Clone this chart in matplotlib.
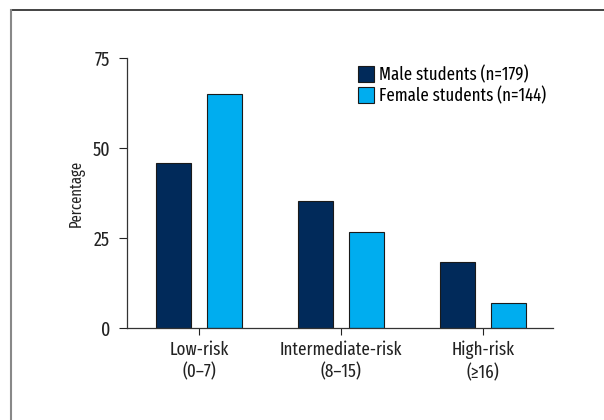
import matplotlib
matplotlib.use("Agg")
import matplotlib.pyplot as plt
import numpy as np

categories = ["Low-risk\n(0\u20137)", "Intermediate-risk\n(8\u201315)", "High-risk\n(\u226516)"]
male = [45.7, 35.3, 18.3]
female = [65.1, 26.8, 6.9]
series_labels = ["Male students (n=179)", "Female students (n=144)"]
yticks = [0, 25, 50, 75]

plt.rcParams["font.family"] = ["Fira Sans Extra Condensed", "DejaVu Sans"]

fig = plt.figure(figsize=(6.04, 4.2), dpi=100)
ax = fig.add_axes([127/604, 1 - 328/420, (553-127)/604, (328-58)/420])

x = np.arange(len(categories))
w = 0.25
off = 0.18
ax.bar(x - off, male, w, color="#012a5a", edgecolor="#1a1a1a", linewidth=0.8, label=series_labels[0])
ax.bar(x + off, female, w, color="#00adef", edgecolor="#1a1a1a", linewidth=0.8, label=series_labels[1])

ax.set_xlim(-0.507, 2.493)
ax.set_ylim(0, 75)
ax.set_yticks(yticks)
ax.set_xticks(x)
ax.set_xticklabels(categories, fontsize=13.3, linespacing=1.3)
ax.tick_params(axis="y", labelsize=14, length=6, width=0.8, pad=6, colors="#222222")
ax.tick_params(axis="x", length=5, width=0.8, pad=4, colors="#222222")
ax.set_ylabel("Percentage", fontsize=11.5, labelpad=6, color="#222222")
for s in ["top", "right"]:
    ax.spines[s].set_visible(False)
for s in ["left", "bottom"]:
    ax.spines[s].set_linewidth(0.9)
    ax.spines[s].set_color("#333333")

leg = ax.legend(loc="upper left", bbox_to_anchor=((351-127)/426, 1.0), frameon=False,
                fontsize=13.1, handlelength=0.85, handleheight=1.0, handletextpad=0.3,
                labelspacing=0.15, borderaxespad=0)

fig.add_artist(plt.Line2D([11/604, 1.0], [1 - 9.5/420, 1 - 9.5/420], transform=fig.transFigure,
                          color="#222222", linewidth=1.2))
fig.add_artist(plt.Line2D([11/604, 11/604], [0, 1 - 9.5/420], transform=fig.transFigure,
                          color="#888888", linewidth=1.5))

fig.savefig("out.png", dpi=100)
